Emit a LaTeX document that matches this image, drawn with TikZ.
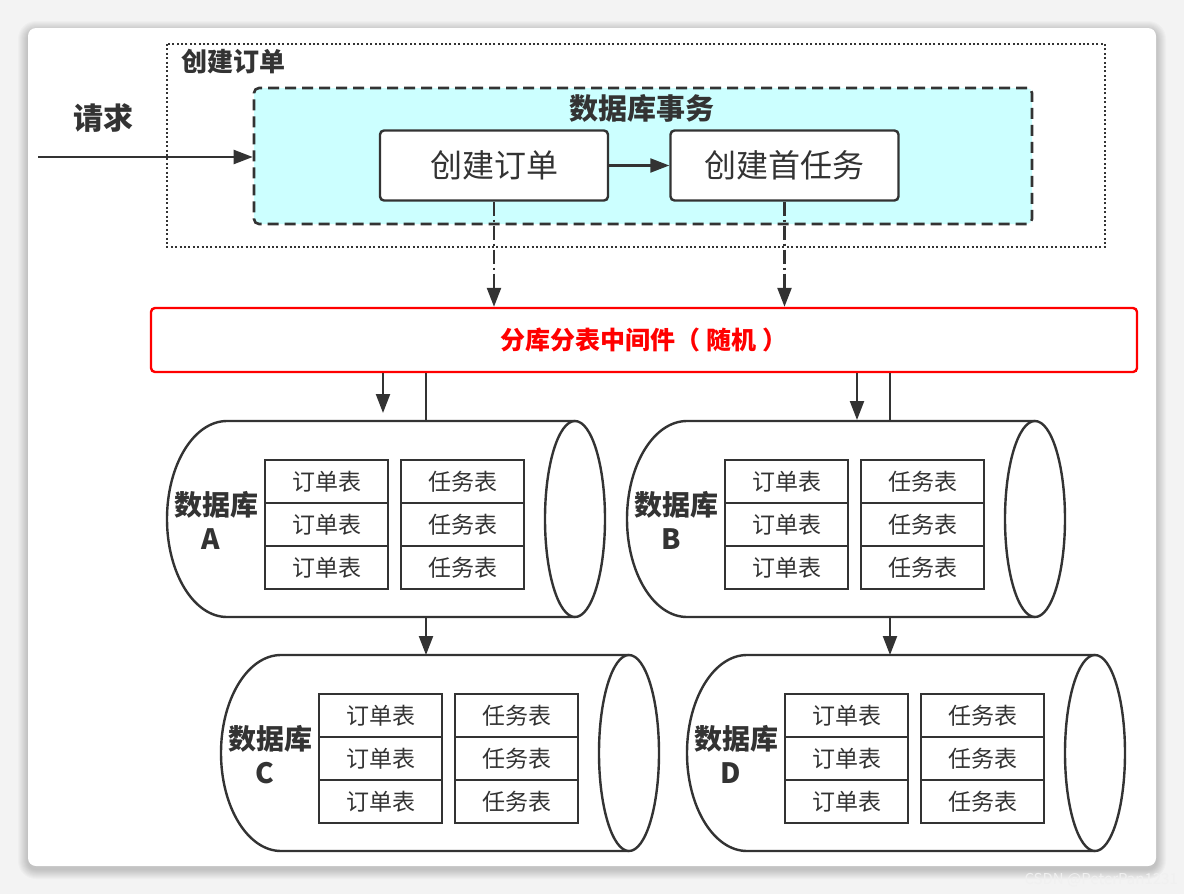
\documentclass[tikz,border=0pt]{standalone}
\usepackage{fontspec}
\newfontfamily\cjk{Noto Sans CJK SC}
\usetikzlibrary{arrows.meta}
\definecolor{ink}{HTML}{333333}
\definecolor{cyanfill}{HTML}{CCFFFF}
\definecolor{redline}{HTML}{FF0000}
\definecolor{pagebg}{HTML}{F3F3F3}
\begin{document}
\begin{tikzpicture}[x=1pt,y=-1pt,
  every node/.style={inner sep=0pt, text=ink},
  arr/.style={draw=ink, line width=2.2pt, -{Triangle[length=19pt,width=14pt]}},
  plainline/.style={draw=ink, line width=2.2pt},
  dashdot/.style={draw=ink, line width=2.4pt, dash pattern=on 14pt off 4pt on 2pt off 4pt, -{Triangle[length=19pt,width=14pt]}},
  boldlabel/.style={font=\cjk\bfseries\fontsize{29}{33}\selectfont},
  taskbox/.style={draw=ink, fill=white, line width=2.4pt, rounded corners=4pt, minimum width=228pt, minimum height=70pt, font=\cjk\fontsize{32}{36}\selectfont},
  cell/.style={draw=ink, fill=white, line width=2.6pt, minimum width=123pt, minimum height=43pt, font=\cjk\fontsize{23}{26}\selectfont},
  dblabel/.style={font=\cjk\bfseries\fontsize{28}{32}\selectfont},
  cylinder body/.style={draw=ink, fill=white, line width=2.4pt}
]
\useasboundingbox (0,0) rectangle (1184,894);
% page background and card
\fill[pagebg] (0,0) rectangle (1184,894);
\foreach \i in {1,...,10}
  \fill[black, opacity=0.018, rounded corners={8+\i}] ({28-\i},{28-\i+3}) rectangle ({1156+\i},{866+\i+3});
\fill[white, rounded corners=8pt] (28,28) rectangle (1156,866);
\node[font=\cjk\fontsize{15}{18}\selectfont, text=white!94!black, anchor=east] (wm) at (1178,880) {CSDN @PeterPan1231};

% create-order frame
\draw[ink, line width=2.2pt, dash pattern=on 2pt off 2.4pt] (167,44) rectangle (1105,247);
\node[font=\cjk\bfseries\fontsize{26}{30}\selectfont, anchor=west] (frametitle) at (181,62) {创建订单};

% transaction box
\node[draw=ink, fill=cyanfill, line width=2.6pt, dash pattern=on 11pt off 6pt, rounded corners=5pt, minimum width=778pt, minimum height=136pt] (tx) at (643,156) {};
\node[boldlabel] (txtitle) at (642,108) {数据库事务};
\node[taskbox] (b1) at (494,165.5) {创建订单};
\node[taskbox] (b2) at (784.5,165.5) {创建首任务};
\draw[arr] (b1) -- (b2);

% request
\node[font=\cjk\bfseries\fontsize{30}{34}\selectfont] (req) at (103,118) {请求};
\coordinate (reqstart) at (38,157);
\draw[arr] (reqstart) -- (reqstart -| tx.west);

% middleware
\node[draw=redline, line width=2.4pt, rounded corners=4pt, minimum width=986pt, minimum height=64pt, fill=white,
      text=redline, font=\cjk\bfseries\fontsize{25}{28}\selectfont] (mw) at (644,340) {分库分表中间件（ 随机 ）};
\draw[dashdot] (b1.south) -- (b1.south |- mw.north);
\draw[dashdot] (b2.south) -- (b2.south |- mw.north);

% databases
\foreach \n/\dx/\dy in {A/0/0, B/460/0, C/54/234, D/520/234}{
  \begin{scope}[shift={(\dx,\dy)}]
    \path[cylinder body] (575,421) -- (227,421) arc[start angle=270, end angle=90, x radius=60, y radius=98] -- (575,617);
    \draw[cylinder body] (575,519) ellipse [x radius=30, y radius=98];
    \node[dblabel] (lbl\n) at (216,505) {数据库};
    \node[dblabel] (let\n) at (211,539) {\n};
    \node[cell] (o\n1) at (326.5,481.5) {订单表};
    \node[cell] (o\n2) at (326.5,524.5) {订单表};
    \node[cell] (o\n3) at (326.5,567.5) {订单表};
    \node[cell] (t\n1) at (462.5,481.5) {任务表};
    \node[cell] (t\n2) at (462.5,524.5) {任务表};
    \node[cell] (t\n3) at (462.5,567.5) {任务表};
  \end{scope}
}

% connectors to databases
\coordinate (inA) at (383,413);
\coordinate (lnA) at (426,421);
\coordinate (inB) at (857,420);
\coordinate (lnB) at (890,421);
\coordinate (botA) at (426,617);
\coordinate (topC) at (426,655);
\coordinate (botB) at (890,617);
\coordinate (topD) at (890,655);
\draw[arr] (mw.south -| inA) -- (inA);
\draw[plainline] (mw.south -| lnA) -- (lnA);
\draw[arr] (mw.south -| inB) -- (inB);
\draw[plainline] (mw.south -| lnB) -- (lnB);
\draw[arr] (botA) -- (topC);
\draw[arr] (botB) -- (topD);
\end{tikzpicture}
\end{document}
